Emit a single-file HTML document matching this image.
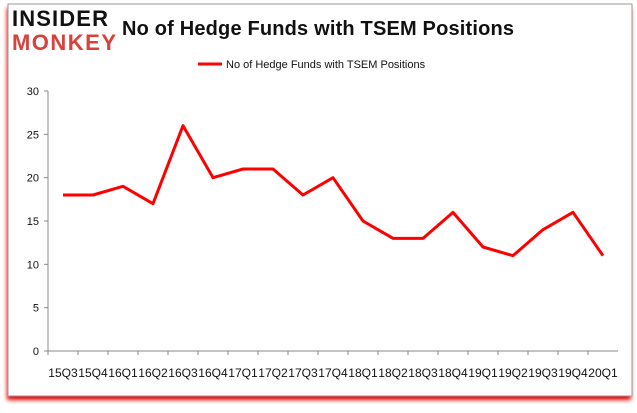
<!DOCTYPE html>
<html><head><meta charset="utf-8"><style>
body{margin:0;background:#fff;font-family:"Liberation Sans",sans-serif}
</style></head><body>
<svg width="637" height="408" xmlns="http://www.w3.org/2000/svg">
<defs><filter id="sh" x="-5%" y="-5%" width="110%" height="115%"><feGaussianBlur stdDeviation="2"/></filter></defs>
<rect x="7" y="8" width="624" height="392" fill="#e00" filter="url(#sh)"/>
<rect x="8" y="4" width="624" height="392" fill="#fff" stroke="#999"/>
<text x="12" y="26" font-family="Liberation Sans" font-weight="bold" font-size="22" fill="#111" textLength="96">INSIDER</text>
<text x="12" y="50" font-family="Liberation Sans" font-weight="bold" font-size="22" fill="#d9413a" textLength="104">MONKEY</text>
<text x="122" y="35" font-family="Liberation Sans" font-weight="bold" font-size="20" fill="#111" textLength="392">No of Hedge Funds with TSEM Positions</text>
<line x1="198" y1="64" x2="222" y2="64" stroke="red" stroke-width="3"/>
<text x="226" y="68" font-size="11" fill="#111">No of Hedge Funds with TSEM  Positions</text>
<g id="axes"></g>
</svg>
<script>
const categories=["15Q3","15Q4","16Q1","16Q2","16Q3","16Q4","17Q1","17Q2","17Q3","17Q4","18Q1","18Q2","18Q3","18Q4","19Q1","19Q2","19Q3","19Q4","20Q1"];
const values=[18,18,19,17,26,20,21,21,18,20,15,13,13,16,12,11,14,16,11];
const yTicks=[0,5,10,15,20,25,30];
const NS="http://www.w3.org/2000/svg";
const g=document.getElementById('axes');
const x0=48,x1=618,yTop=91,yBot=351,yMax=30;
const bw=(x1-x0)/categories.length;
const xs=i=>x0+bw*(i+0.5);
const ys=v=>yBot-(v/yMax)*(yBot-yTop);
function el(t,a){const e=document.createElementNS(NS,t);for(const k in a)e.setAttribute(k,a[k]);g.appendChild(e);return e;}
let e=el('line',{x1:x0,y1:yTop,x2:x0,y2:yBot,stroke:'#888'});


e=el('line',{x1:x0,y1:yBot,x2:x1,y2:yBot,stroke:'#888'});


yTicks.forEach(v=>{
 const t=el('line',{x1:x0-4,y1:ys(v),x2:x0,y2:ys(v),stroke:'#888'});
 
 
 const l=el('text',{x:x0-9,y:ys(v)+4,'text-anchor':'end','font-size':'11',fill:'#111'});
 l.textContent=v;
 
 
});
categories.forEach((c,i)=>{
 const t=el('line',{x1:x0+bw*i,y1:yBot,x2:x0+bw*i,y2:yBot+4,stroke:'#888'});
 
 
 const l=el('text',{x:xs(i),y:yBot+26,'text-anchor':'middle','font-size':'12',fill:'#111',textLength:bw-0.5,lengthAdjust:'spacingAndGlyphs'});
 l.textContent=c;
 
 
});
const p=el('polyline',{points:values.map((v,i)=>xs(i)+','+ys(v)).join(' '),fill:'none',stroke:'red','stroke-width':3,'stroke-linejoin':'round'});


</script>
</body></html>
